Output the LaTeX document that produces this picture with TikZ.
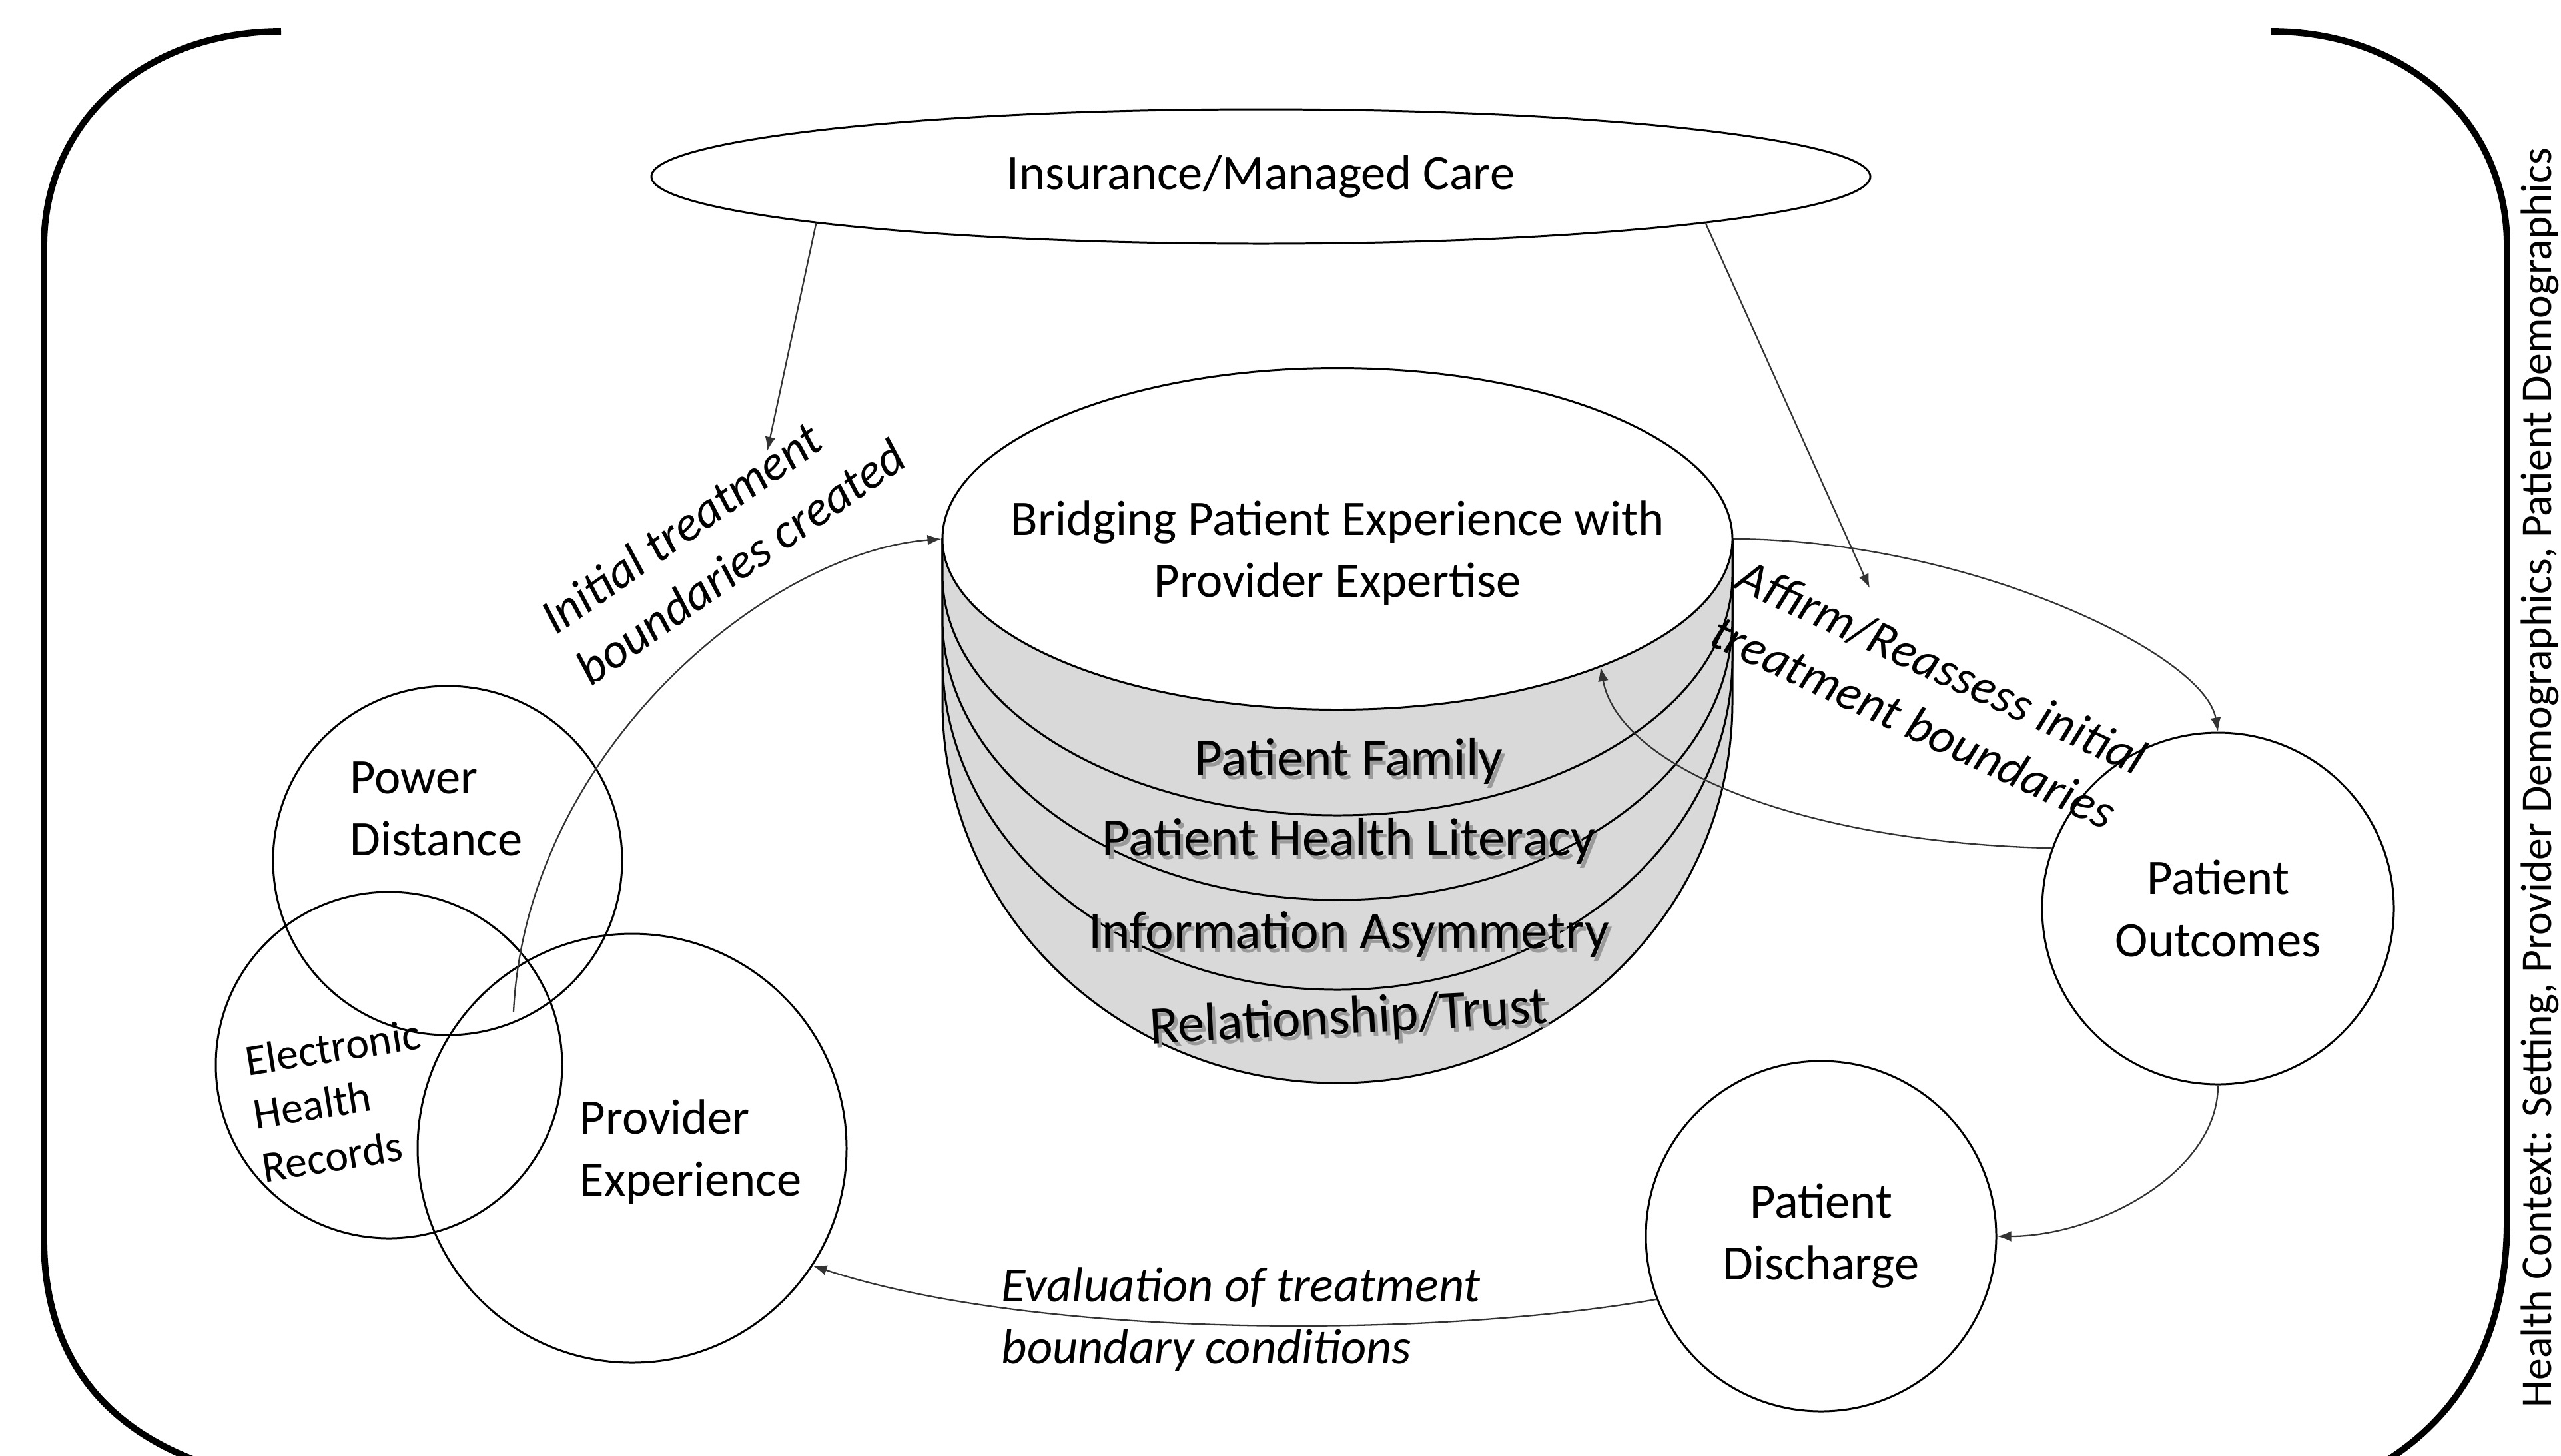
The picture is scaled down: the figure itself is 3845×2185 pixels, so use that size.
\documentclass[tikz,border=0pt]{standalone}
\usepackage{fontspec}
\setmainfont{Carlito}
\usetikzlibrary{arrows.meta,shapes.geometric}
\definecolor{layergray}{RGB}{217,217,217}
\begin{document}
\begin{tikzpicture}[x=0.1mm,y=-0.1mm,
  shp/.style={draw=black, line width=0.85pt},
  circ/.style={draw=black, circle, line width=0.85pt, inner sep=0pt},
  conn/.style={draw=black!80, line width=0.65pt, -{Latex[length=6pt,width=4.5pt]}},
  lbl/.style={font=\fontsize{21.2}{26.5}\selectfont, align=left, inner sep=0pt},
  ital/.style={font=\fontsize{21.2}{26.5}\selectfont\itshape, align=left, inner sep=0pt},
  lyr/.style={font=\fontsize{23}{28}\selectfont, inner sep=0pt},
  lyrshadow/.style={lyr, text=black!40},
  layer/.style={draw=black, line width=0.85pt, fill=layergray},
  bracket/.style={draw=black, line width=2.8pt}]

\useasboundingbox (0,0) rectangle (3845,2185);
\clip (0,0) rectangle (3845,2185);

% outer brackets
\draw[bracket] (422,47) .. controls (220,47) and (66,180) .. (66,370) -- (66,1860) .. controls (66,2030) and (150,2140) .. (300,2195);
\draw[bracket] (3410,47) .. controls (3610,47) and (3764,180) .. (3764,370) -- (3764,1830) .. controls (3764,2000) and (3700,2120) .. (3580,2195);

% cylinder layers (back to front)
\foreach \cy/\ry in {1054/57.2, 988/49.8, 929/42.2, 863/36.1}
  \draw[layer] (1415,809) -- (1415,\cy) arc[start angle=180, end angle=360, x radius=59.3mm, y radius=\ry mm] -- (2601,809) -- cycle;
\node[shp, ellipse, fill=white, minimum width=118.6mm, minimum height=51.3mm, inner sep=0pt] (top) at (2008,809) {};
\node[lbl, align=center] (toptxt) at (2008,830) {Bridging Patient Experience with\\Provider Expertise};

% layer labels with shadow
\node[lyrshadow] (l1s) at (2030,1149) {Patient Family};
\node[lyr] (l1t) at (2025,1143) {Patient Family};
\node[lyrshadow] (l2s) at (2030,1269) {Patient Health Literacy};
\node[lyr] (l2t) at (2025,1263) {Patient Health Literacy};
\node[lyrshadow] (l3s) at (2030,1409) {Information Asymmetry};
\node[lyr] (l3t) at (2025,1403) {Information Asymmetry};
\node[lyrshadow, rotate=3] (l4s) at (2030,1536) {Relationship/Trust};
\node[lyr, rotate=3] (l4t) at (2025,1530) {Relationship/Trust};

% insurance ellipse
\node[shp, ellipse, minimum width=183mm, minimum height=20.2mm, inner sep=0pt, font=\fontsize{21.2}{26.5}\selectfont] (ins) at (1893,265) {Insurance/Managed Care};

% circles
\node[circ, minimum size=52.4mm] (pdist) at (672,1292) {};
\node[circ, minimum size=52mm] (ehr) at (584,1599) {};
\node[circ, minimum size=64.4mm] (pe) at (949,1724) {};
\node[circ, minimum size=52.8mm, font=\fontsize{21.2}{26.5}\selectfont, align=center] (po) at (3330,1364) {Patient\\Outcomes};
\node[circ, minimum size=52.6mm, font=\fontsize{21.2}{26.5}\selectfont, align=center] (pd) at (2734,1856) {Patient\\Discharge};

\node[lbl, anchor=west] (pdistt) at (525,1214) {Power\\Distance};
\node[lbl, anchor=west] (pet) at (870,1729) {Provider\\Experience};
\node[font=\fontsize{18.8}{23}\selectfont, align=left, inner sep=0pt, rotate=9] (ehrt) at (512,1652) {Electronic\\Health\\Records};

% free ends
\coordinate (a1) at (1152,677);
\coordinate (a2) at (2807,883);
\coordinate (s1) at (771,1519);

% connectors
\draw[conn] (ins.186) -- (a1);
\draw[conn] (ins.-6.5) -- (a2);
\draw[conn] (s1) .. controls (790,1130) and (1150,830) .. (top.west);
\draw[conn] (top.east) .. controls (2950,810) and (3310,980) .. (po.north);
\draw[conn] (po.160) .. controls (2700,1265) and (2430,1150) .. (top.-26);
\draw[conn] (po.south) .. controls (3330,1760) and (3150,1856) .. (pd.east);
\draw[conn] (pd.201) .. controls (2150,2010) and (1550,2010) .. (pe.-33);

% italic labels
\node[ital, rotate=35] (lab1) at (1085,805) {Initial treatment\\boundaries created};
\node[ital, rotate=-25] (lab2) at (2896,1043) {Affirm/Reassess initial\\treatment boundaries};
\node[ital, anchor=west] (lab3) at (1503,1981) {Evaluation of treatment\\boundary conditions};

% side text
\node[font=\fontsize{18.7}{22}\selectfont, rotate=90, anchor=base west, inner sep=0pt] (ctx) at (3830,2114) {Health Context: Setting, Provider Demographics, Patient Demographics};
\end{tikzpicture}
\end{document}
